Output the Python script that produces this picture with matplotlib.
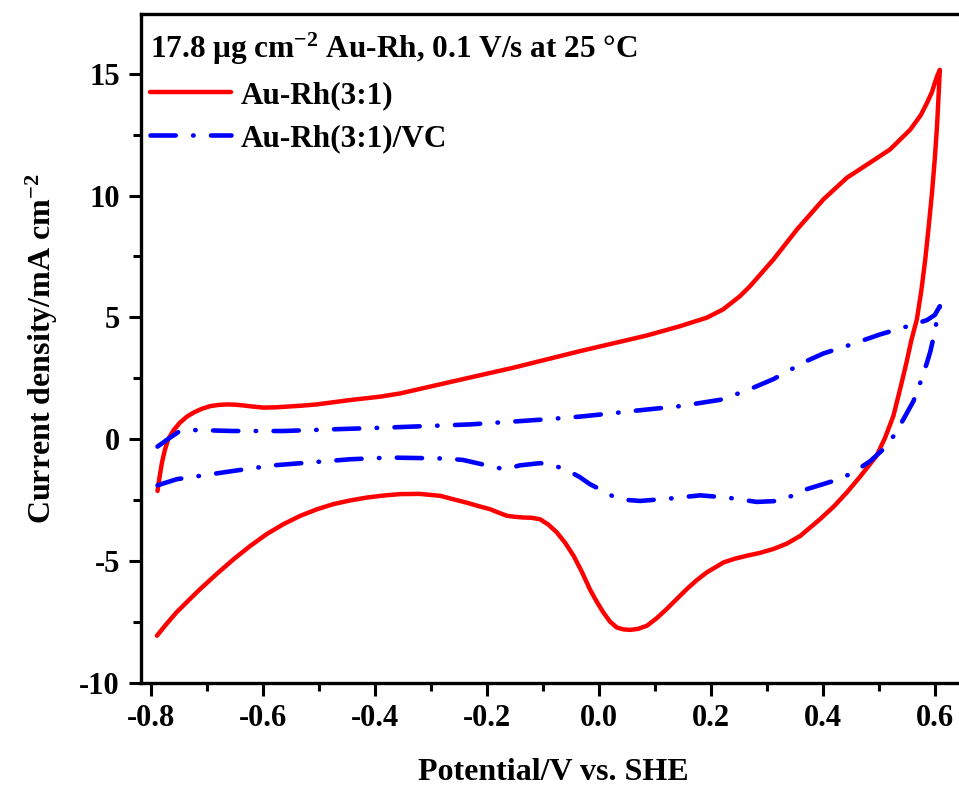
import matplotlib
matplotlib.use("Agg")
import matplotlib.pyplot as plt
from matplotlib.ticker import MultipleLocator, FormatStrFormatter

plt.rcParams['font.family'] = ['Liberation Serif', 'DejaVu Serif']
plt.rcParams['font.weight'] = 'bold'
plt.rcParams['axes.unicode_minus'] = False
plt.rcParams['mathtext.fontset'] = 'custom'
plt.rcParams['mathtext.rm'] = 'Liberation Serif:bold'
plt.rcParams['mathtext.bf'] = 'Liberation Serif:bold'
plt.rcParams['mathtext.default'] = 'bf'

# Au-Rh(3:1): anodic sweep then cathodic sweep
auRh_x = [-0.788, -0.784, -0.780, -0.775, -0.769, -0.759, -0.748, -0.736, -0.724, -0.709,
          -0.694, -0.679, -0.664, -0.650, -0.635, -0.617, -0.599, -0.578, -0.557, -0.530,
          -0.504, -0.474, -0.444, -0.390, -0.355, -0.271, -0.152, -0.033, 0.086, 0.145,
          0.193, 0.222, 0.252, 0.270, 0.312, 0.354, 0.401, 0.443, 0.479, 0.520,
          0.556, 0.575, 0.586, 0.595, 0.600, 0.605, 0.608, 0.609,
          0.607, 0.604, 0.600, 0.595, 0.589, 0.583, 0.576, 0.568, 0.558, 0.549,
          0.538, 0.526, 0.511, 0.496, 0.466, 0.443, 0.420, 0.395, 0.360, 0.336,
          0.312, 0.288, 0.264, 0.243, 0.223, 0.193, 0.175, 0.157, 0.121, 0.103,
          0.086, 0.070, 0.056, 0.044, 0.032, 0.020, 0.008, -0.004, -0.016, -0.030,
          -0.045, -0.060, -0.075, -0.090, -0.105, -0.120, -0.135, -0.150, -0.164, -0.180,
          -0.194, -0.215, -0.236, -0.260, -0.283, -0.320, -0.355, -0.385, -0.414, -0.444,
          -0.474, -0.503, -0.533, -0.563, -0.593, -0.622, -0.652, -0.682, -0.712, -0.733,
          -0.754, -0.772, -0.789]
auRh_y = [-2.12, -1.50, -0.95, -0.45, 0.00, 0.38, 0.68, 0.92, 1.09, 1.25,
          1.36, 1.41, 1.43, 1.42, 1.39, 1.34, 1.30, 1.31, 1.34, 1.38,
          1.43, 1.52, 1.61, 1.75, 1.88, 2.32, 2.94, 3.62, 4.26, 4.64,
          4.99, 5.33, 5.87, 6.28, 7.38, 8.61, 9.84, 10.73, 11.27, 11.89,
          12.70, 13.30, 13.80, 14.25, 14.62, 14.95, 15.10, 15.16,
          14.20, 12.84, 11.50, 10.10, 8.70, 7.38, 6.10, 4.92, 4.05, 3.10,
          2.05, 0.95, 0.05, -0.68, -1.55, -2.18, -2.75, -3.28, -3.96, -4.28,
          -4.50, -4.66, -4.78, -4.90, -5.05, -5.46, -5.78, -6.15, -6.97, -7.35,
          -7.65, -7.78, -7.82, -7.80, -7.72, -7.48, -7.10, -6.65, -6.15, -5.45,
          -4.78, -4.25, -3.82, -3.50, -3.28, -3.22, -3.21, -3.18, -3.14, -3.00,
          -2.87, -2.74, -2.60, -2.46, -2.32, -2.24, -2.25, -2.31, -2.39, -2.51,
          -2.66, -2.87, -3.14, -3.48, -3.89, -4.37, -4.92, -5.52, -6.15, -6.62,
          -7.10, -7.58, -8.06]

# Au-Rh(3:1)/VC
vc_x = [-0.788, -0.768, -0.748, -0.718, -0.653, -0.563, -0.474, -0.379, -0.230, -0.093,
        -0.034, 0.026, 0.056, 0.145, 0.217, 0.264, 0.312, 0.354, 0.371, 0.401,
        0.443, 0.502, 0.562, 0.586, 0.600, 0.609,
        0.603, 0.598, 0.592, 0.586, 0.574, 0.562, 0.544, 0.527, 0.508, 0.485,
        0.452, 0.419, 0.395, 0.371, 0.345, 0.321, 0.282, 0.229, 0.181, 0.127,
        0.074, 0.045, 0.026, 0.002, -0.016, -0.034, -0.050, -0.069, -0.090, -0.105,
        -0.141, -0.167, -0.185, -0.200, -0.242, -0.271, -0.373, -0.444, -0.504, -0.581,
        -0.653, -0.712, -0.754, -0.788]
vc_y = [-0.30, 0.03, 0.34, 0.38, 0.34, 0.34, 0.41, 0.48, 0.61, 0.82,
        0.93, 1.07, 1.15, 1.36, 1.62, 2.00, 2.47, 3.00, 3.21, 3.52,
        3.83, 4.30, 4.71, 4.89, 5.10, 5.46,
        4.80, 4.20, 3.60, 3.14, 2.32, 1.57, 0.82, 0.15, -0.41, -0.89,
        -1.40, -1.71, -1.88, -2.05, -2.32, -2.53, -2.57, -2.39, -2.30, -2.43,
        -2.53, -2.48, -2.35, -2.05, -1.84, -1.55, -1.35, -1.16, -1.02, -0.98,
        -1.07, -1.23, -1.15, -1.07, -0.85, -0.79, -0.75, -0.82, -0.93, -1.07,
        -1.30, -1.50, -1.64, -1.89]

legend_title = r"17.8 $\mathbf{\mu}$g cm$^{-2}$ Au-Rh, 0.1 V/s at 25 °C"
labels = ["Au-Rh(3:1)", "Au-Rh(3:1)/VC"]

W, H = 959, 785
fig = plt.figure(figsize=(W / 100, H / 100), dpi=100)
left_px, right_px, top_px, bot_px = 140.7, 966, 14, 683
ax = fig.add_axes([left_px / W, 1 - bot_px / H, (right_px - left_px) / W, (bot_px - top_px) / H])

ax.plot(auRh_x, auRh_y, color='#ff0000', lw=3.2, solid_capstyle='round',
        solid_joinstyle='round', label=labels[0])
ax.plot(vc_x, vc_y, color='#0000ff', lw=3.3, dash_capstyle='round',
        dash_joinstyle='round', dashes=(5.5, 3.8, 0.1, 3.8), label=labels[1])

ax.set_xlim(-0.818, -0.818 + (right_px - left_px) / 560.0)
ax.set_ylim(-10, 17.45)
ax.xaxis.set_major_locator(MultipleLocator(0.2))
ax.xaxis.set_minor_locator(MultipleLocator(0.1))
ax.yaxis.set_major_locator(MultipleLocator(5))
ax.yaxis.set_minor_locator(MultipleLocator(2.5))
ax.xaxis.set_major_formatter(FormatStrFormatter('%.1f'))
ax.yaxis.set_major_formatter(FormatStrFormatter('%d'))
ax.tick_params(which='both', direction='out', width=2.2, top=False, right=False,
               labelsize=22)
ax.tick_params(which='major', length=9, pad=6)
ax.tick_params(which='minor', length=5.5)
for s in ax.spines.values():
    s.set_linewidth(2.4)
ax.spines['right'].set_visible(False)

ax.set_xlabel("Potential/V vs. SHE", fontsize=23, fontweight='bold', labelpad=18)
ax.set_ylabel(r"Current density/mA cm$^{-2}$", fontsize=23, fontweight='bold', labelpad=14)

leg = ax.legend(loc='upper left', bbox_to_anchor=(-0.019, 1.012), frameon=False,
                title=legend_title, alignment='left', fontsize=22.5, title_fontsize=22.5,
                handlelength=2.6, handletextpad=0.3, labelspacing=0.45, borderpad=0.3)
leg.get_title().set_fontweight('bold')

fig.savefig("out.png", dpi=100)
